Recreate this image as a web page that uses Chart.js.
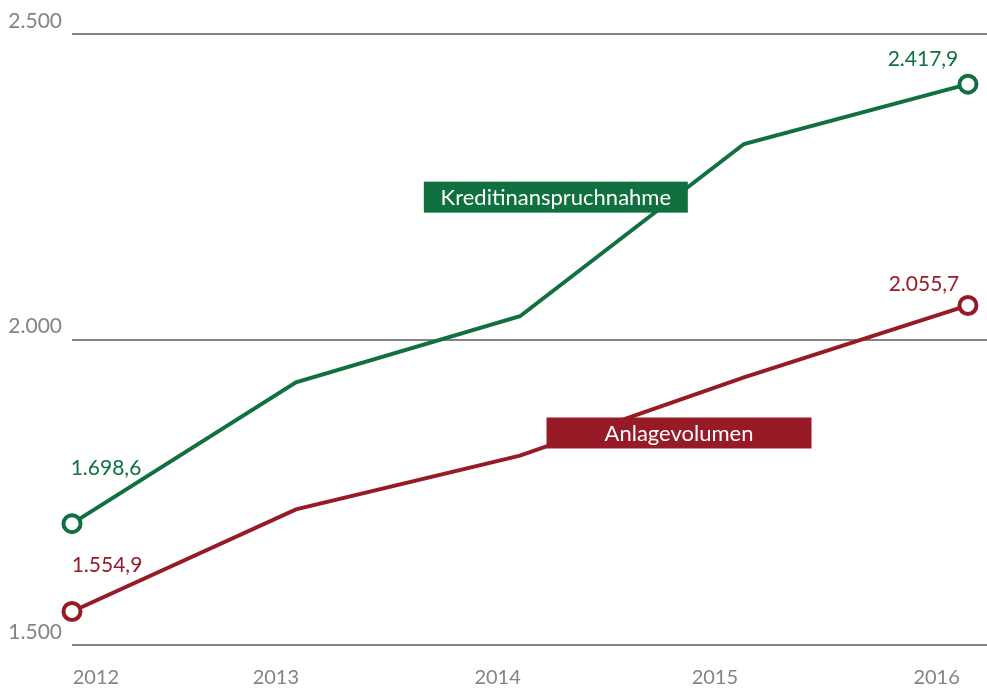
<!DOCTYPE html>
<html>
<head>
<meta charset="utf-8">
<script src="https://cdn.jsdelivr.net/npm/chart.js@4/dist/chart.umd.min.js"></script>
<style>
  body { margin: 0; background: #fff; }
  #wrap { width: 987px; height: 689px; position: relative; }
</style>
</head>
<body>
<div id="wrap"><canvas id="volumeChart"></canvas></div>
<script>
const years = [2012, 2013, 2014, 2015, 2016];
const kreditValues = [1698.6, 1930, 2038, 2320, 2417.9];
const anlageValues = [1554.9, 1722, 1810, 1938, 2055.7];
const yTicks = [1500, 2000, 2500];
const seriesNames = ["Kreditinanspruchnahme", "Anlagevolumen"];

const green = '#11703f';
const red = '#971b27';
const grey = '#848488';
const fontName = 'Lato, "Open Sans", sans-serif';

function fmt(v, decimals) {
    var parts = v.toFixed(decimals).split('.');
    var intPart = parts[0].replace(/\B(?=(\d{3})+(?!\d))/g, '.');
    return parts.length > 1 ? intPart + ',' + parts[1] : intPart;
}

function toPoints(values) {
    return values.map(function (v, i) { return { x: years[i], y: v }; });
}

// value labels at first and last point, plus the boxed series names
const annotate = {
    id: 'annotate',
    afterDatasetsDraw: function (chart) {
        var ctx = chart.ctx;
        var xs = chart.scales.x, ys = chart.scales.y;
        var last = years.length - 1;
        var sets = [
            { values: kreditValues, color: green, offs: [[34, -55], [-45, -25]],
              box: { x: 2014.16, y: 2233, w: 264, h: 31 }, name: seriesNames[0] },
            { values: anlageValues, color: red, offs: [[35, -46], [-44, -21]],
              box: { x: 2014.71, y: 1847, w: 265, h: 31 }, name: seriesNames[1] }
        ];
        ctx.save();
        ctx.textAlign = 'center';
        ctx.textBaseline = 'middle';
        sets.forEach(function (s) {
            ctx.font = '21px ' + fontName;
            ctx.fillStyle = s.color;
            [0, last].forEach(function (idx, k) {
                var px = xs.getPixelForValue(years[idx]);
                var py = ys.getPixelForValue(s.values[idx]);
                ctx.fillText(fmt(s.values[idx], 1), px + s.offs[k][0], py + s.offs[k][1]);
            });
            var bx = xs.getPixelForValue(s.box.x);
            var by = ys.getPixelForValue(s.box.y);
            ctx.fillStyle = s.color;
            ctx.fillRect(bx - s.box.w / 2, by - s.box.h / 2, s.box.w, s.box.h);
            ctx.fillStyle = '#fff';
            ctx.font = '22px ' + fontName;
            ctx.fillText(s.name, bx, by + 1);
        });
        ctx.restore();
    }
};

// tick label nudges, the year labels sit a bit left of their points
const labelShift = [0.107, -0.09, -0.1, -0.13, -0.14];

var ctx = document.getElementById('volumeChart').getContext('2d');
var volumeChart = new Chart(ctx, {
    type: 'line',
    data: {
        datasets: [{
            label: seriesNames[0],
            data: toPoints(kreditValues),
            borderColor: green,
            borderWidth: 4,
            pointRadius: [8.5, 0, 0, 0, 8.5],
            pointBorderWidth: 4,
            pointBackgroundColor: '#fff',
            pointBorderColor: green,
            tension: 0,
            clip: false
        }, {
            label: seriesNames[1],
            data: toPoints(anlageValues),
            borderColor: red,
            borderWidth: 4,
            pointRadius: [8.5, 0, 0, 0, 8.5],
            pointBorderWidth: 4,
            pointBackgroundColor: '#fff',
            pointBorderColor: red,
            tension: 0,
            clip: false
        }]
    },
    options: {
        responsive: true,
        maintainAspectRatio: false,
        animation: false,
        layout: {
            autoPadding: false,
            padding: { top: 34, right: 0, left: 0, bottom: 0 }
        },
        scales: {
            x: {
                type: 'linear',
                min: 2012,
                max: 2016.085,
                grid: { display: false, drawTicks: false },
                border: { display: false },
                afterBuildTicks: function (scale) {
                    scale.ticks = years.map(function (y, i) { return { value: y + labelShift[i] }; });
                },
                afterFit: function (scale) {
                    scale.height = 44;
                    scale.paddingLeft = 0;
                    scale.paddingRight = 0;
                },
                ticks: {
                    padding: 21,
                    color: grey,
                    font: { family: fontName, size: 20 },
                    maxRotation: 0,
                    autoSkip: false,
                    callback: function (value, index) { return String(years[index]); }
                }
            },
            y: {
                min: 1500,
                max: 2500,
                afterBuildTicks: function (scale) {
                    scale.ticks = yTicks.map(function (v) { return { value: v }; });
                },
                afterFit: function (scale) {
                    scale.width = 72;
                    scale.paddingTop = 0;
                    scale.paddingBottom = 0;
                },
                grid: { color: grey, lineWidth: 2, drawTicks: false },
                border: { display: false },
                ticks: {
                    padding: 10,
                    labelOffset: -13,
                    color: grey,
                    font: { family: fontName, size: 21 },
                    callback: function (value) { return fmt(value, 0); }
                }
            }
        },
        plugins: {
            legend: { display: false },
            tooltip: { enabled: false }
        }
    },
    plugins: [annotate]
});
</script>
</body>
</html>
